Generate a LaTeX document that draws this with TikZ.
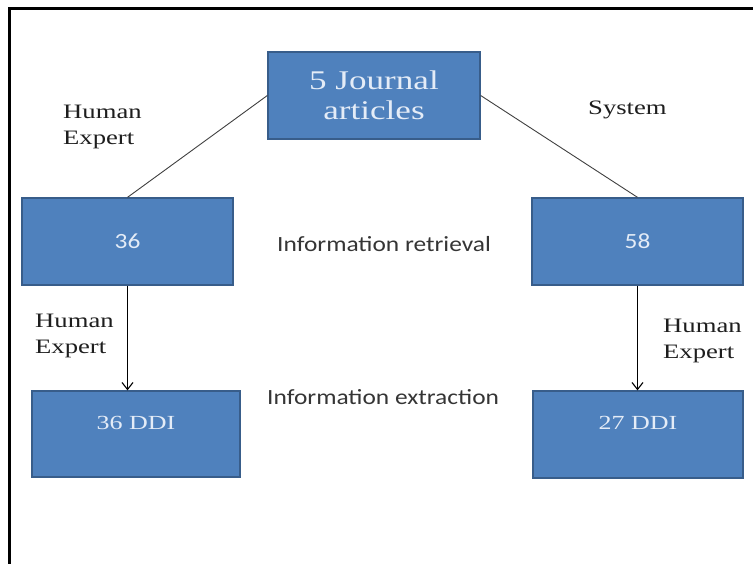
\documentclass[tikz,border=0pt]{standalone}
\usepackage{fontspec}
\setmainfont{Liberation Serif}[FakeStretch=1.3]
\newfontfamily\calib{Carlito}[FakeStretch=1.17]
\usetikzlibrary{arrows.meta}
\definecolor{boxblue}{RGB}{79,129,189}
\definecolor{boxedge}{RGB}{56,93,138}
\definecolor{boxtext}{RGB}{228,236,247}
\definecolor{inktext}{RGB}{30,30,30}
\begin{document}
\begin{tikzpicture}[
    x=1pt, y=-1pt,
    box/.style={draw=boxedge, line width=1.3pt, fill=boxblue, text=boxtext, inner sep=0pt, align=center},
    lbl/.style={inner sep=0pt, align=left, text=inktext, font=\fontsize{20.5}{26}\selectfont},
    info/.style={inner sep=0pt, anchor=base west, text=inktext!90, font=\calib\fontsize{21.7}{24}\selectfont},
    link/.style={draw=black!75, line width=0.9pt},
    down/.style={-{Straight Barb[length=7pt,width=11pt]}, line width=1.1pt, draw=black}
]
\useasboundingbox (0,0) rectangle (753,564);

% Frame
\draw[line width=2.5pt] (9.5,564) -- (9.5,8.5) -- (753,8.5);

% Boxes
\node[box, minimum width=212, minimum height=87, font=\fontsize{27}{30}\selectfont] (articles) at (374,95.5) {5 Journal\\articles};
\node[box, minimum width=211, minimum height=87, font=\calib\fontsize{21.7}{24}\selectfont] (ret36) at (127.5,241.5) {36};
\node[box, minimum width=211, minimum height=87, font=\calib\fontsize{21.7}{24}\selectfont] (ret58) at (637.5,241.5) {58};
\node[box, minimum width=208, minimum height=86, text height=15pt, text depth=25pt, font=\fontsize{20}{24}\selectfont] (ext36) at (136,434) {36 DDI};
\node[box, minimum width=210, minimum height=87, text height=15pt, text depth=25pt, font=\fontsize{20}{24}\selectfont] (ext27) at (638,434.5) {27 DDI};

% Labels
\node[lbl, anchor=west] (human) at (63,127) {Human\\Expert};
\node[lbl, anchor=base west] (system) at (588,115) {System};
\node[lbl, anchor=west] (humanL) at (35,336) {Human\\Expert};
\node[lbl, anchor=west] (humanR) at (663,341) {Human\\Expert};
\node[info] (retrieval) at (277,252) {Information retrieval};
\node[info] (extraction) at (267,404) {Information extraction};

% Connectors
\draw[link] (articles.west) -- (ret36.north);
\draw[link] (articles.east) -- (ret58.north);
\draw[down] (ret36.south) -- (ret36.south |- ext36.north);
\draw[down] (ret58.south) -- (ret58.south |- ext27.north);

\end{tikzpicture}
\end{document}
